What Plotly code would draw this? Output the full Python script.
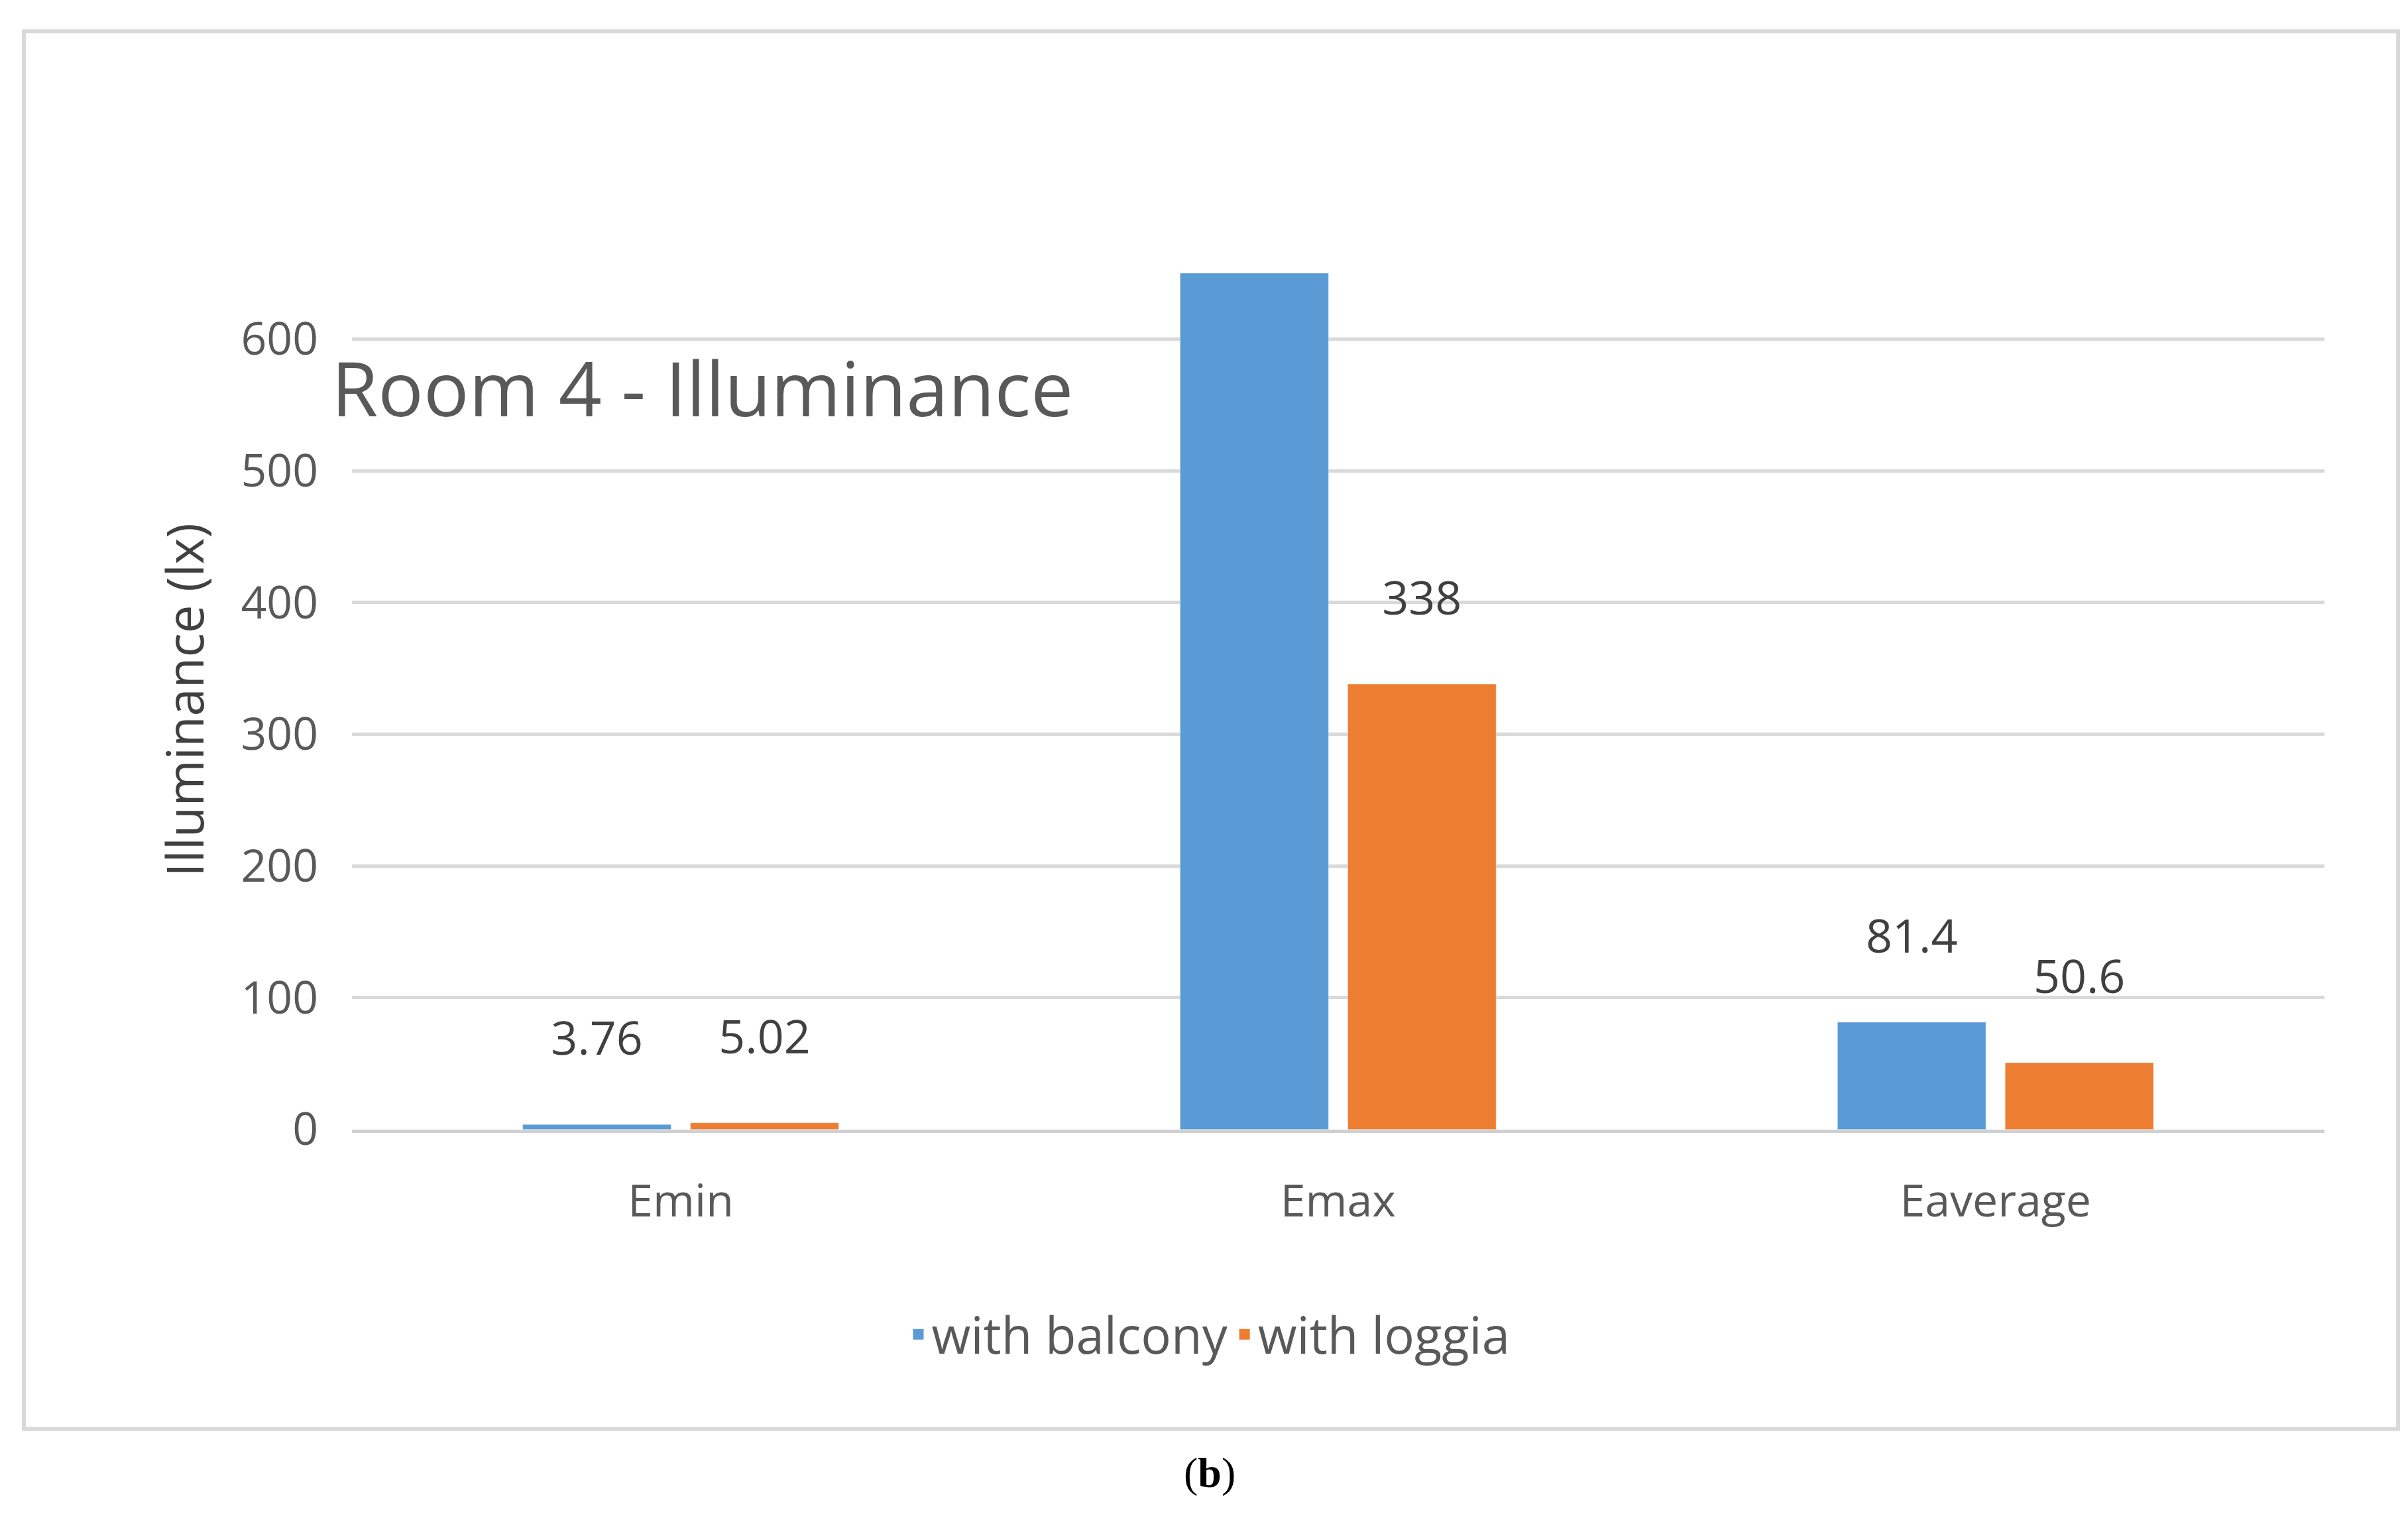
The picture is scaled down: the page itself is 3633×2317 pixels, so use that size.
import plotly.graph_objects as go

categories = ["Emin", "Emax", "Eaverage"]
balcony = [3.76, 650, 81.4]
loggia = [5.02, 338, 50.6]
balcony_labels = ["3.76", "", "81.4"]
loggia_labels = ["5.02", "338", "50.6"]

font = "Open Sans"
blue, orange = "#5b9bd5", "#ed7d31"
pad = "<br><span style='font-size:36px'> </span>"

fig = go.Figure()
fig.add_bar(x=categories, y=balcony, name="with balcony", marker_color=blue, showlegend=False,
            text=[t + pad if t else "" for t in balcony_labels], textposition="outside", cliponaxis=False,
            textfont=dict(size=70, color="#404040", family=font))
fig.add_bar(x=categories, y=loggia, name="with loggia", marker_color=orange, showlegend=False,
            text=[t + pad for t in loggia_labels], textposition="outside", cliponaxis=False,
            textfont=dict(size=70, color="#404040", family=font))
for nm, c in [("with balcony", blue), ("with loggia", orange)]:
    fig.add_scatter(x=[None], y=[None], mode="markers", name=nm,
                    marker=dict(symbol="square", size=44, color=c))
fig.update_layout(
    width=3633, height=2317, margin=dict(l=0, r=0, t=0, b=0),
    paper_bgcolor="white", plot_bgcolor="white",
    font=dict(family=font, color="#595959"),
    barmode="group", bargap=0.49, bargroupgap=0.115,
    xaxis=dict(domain=[0.144, 0.963], showline=True, linecolor="#d0d0d0", linewidth=5,
               tickfont=dict(size=68, color="#595959"), ticks="", ticklabelstandoff=45),
    yaxis=dict(domain=[0.254, 0.824], range=[0, 652], dtick=100, showgrid=True,
               gridcolor="#d9d9d9", gridwidth=5, zeroline=False, ticklabelstandoff=50,
               tickfont=dict(size=68, color="#595959"),
               title=dict(text="Illuminance (lx)", font=dict(size=76, color="#404040"), standoff=30)),
    legend=dict(orientation="h", x=0.5, xanchor="center", y=0.118, yanchor="middle",
                font=dict(size=76, color="#595959"), itemwidth=30),
)
fig.add_annotation(text="Room 4 - Illuminance", xref="paper", yref="paper", x=0.135, y=0.747,
                   xanchor="left", yanchor="middle", showarrow=False,
                   font=dict(size=114, color="#595959", family=font))
fig.add_annotation(text="(<b>b</b>)", xref="paper", yref="paper", x=0.5, y=0.026,
                   xanchor="center", yanchor="middle", showarrow=False,
                   font=dict(size=64, color="black", family="Liberation Serif"))
fig.add_shape(type="rect", xref="paper", yref="paper", x0=0.0077, x1=0.9937, y0=0.0552, y1=0.9827,
              line=dict(color="#d9d9d9", width=6))
fig.write_html("out.html")
